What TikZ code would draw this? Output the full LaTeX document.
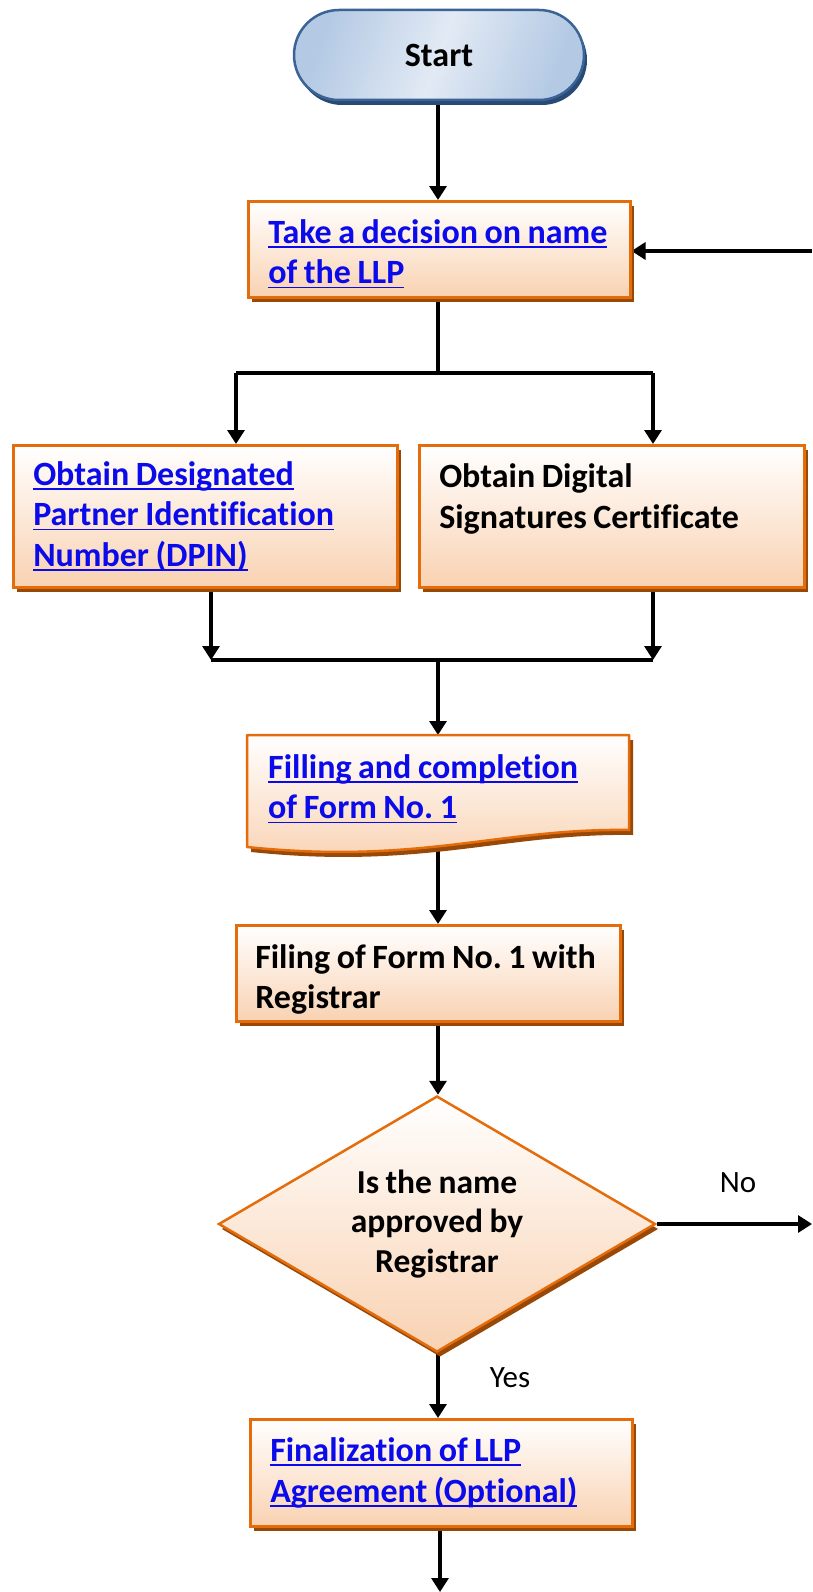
\documentclass[tikz,border=0pt]{standalone}
\usepackage{fontspec}
\setmainfont{Carlito}[Ligatures={NoCommon}, WordSpace=0.85]
\usetikzlibrary{arrows.meta,shapes.geometric,shadows,calc,backgrounds}
\definecolor{boxborder}{HTML}{E46C0A}
\definecolor{boxbottom}{HTML}{F9D2B2}
\definecolor{boxshadow}{HTML}{984807}
\definecolor{startborder}{HTML}{3B6396}
\definecolor{startlight}{HTML}{E2EAF4}
\definecolor{startdark}{HTML}{B3C9E4}
\definecolor{startshadow}{HTML}{284A75}
\definecolor{linkblue}{HTML}{0A0AEB}
\newcommand\lnk[1]{\leavevmode\setbox0\hbox{#1}\rlap{\rule[-4.5pt]{\wd0}{1.6pt}}\box0}
\newcommand\lift[1]{\rule{0pt}{#1}}
\protected\def\natspace{\spaceskip=0pt\relax\xspaceskip=0pt\relax}
\frenchspacing
\begin{document}
\begin{tikzpicture}[x=1pt,y=-1pt,
  stepbox/.style={draw=boxborder, line width=2.5pt, top color=white, bottom color=boxbottom,
    drop shadow={shadow xshift=4pt, shadow yshift=-5pt, fill=boxshadow, opacity=1},
    rectangle, inner xsep=20pt, inner ysep=0pt, align=flush left, anchor=north west,
    font=\fontsize{34}{40.5}\selectfont\bfseries},
  plainbox/.style={rectangle, inner xsep=20pt, inner ysep=0pt, align=flush left, anchor=north west,
    font=\fontsize{34}{40.5}\selectfont\bfseries},
  linktext/.style={text=linkblue},
  startbox/.style={draw=startborder, line width=2.5pt, rounded corners=45pt,
    left color=startdark, right color=startdark, middle color=startlight, shading angle=70,
    drop shadow={shadow xshift=3pt, shadow yshift=-5pt, fill=startshadow, opacity=1},
    minimum width=290pt, minimum height=90pt, font=\fontsize{34}{40}\selectfont\bfseries},
  decision/.style={diamond, draw=boxborder, line width=2.5pt, top color=white, bottom color=boxbottom,
    drop shadow={shadow xshift=3pt, shadow yshift=-5pt, fill=boxshadow, opacity=1},
    minimum width=437pt, minimum height=256pt, inner sep=0pt, aspect=1.7, align=center,
    font=\fontsize{33.5}{39.6}\selectfont\bfseries},
  lbl/.style={font=\fontsize{31}{36}\selectfont},
  conn/.style={line width=3.2pt},
  arr/.style={line width=3.2pt, -{Triangle[length=14pt,width=17pt]}}
]
\useasboundingbox (0,0) rectangle (812,1592);

% nodes
\node[startbox] (start) at (439,55) {Start};
\node[stepbox, linktext, minimum width=382pt, minimum height=96pt, text width=342pt] (b1) at (247,200)
  {\natspace\lift{33pt}\lnk{Take a decision on name}\\\lnk{of the LLP}};
\node[stepbox, linktext, minimum width=384pt, minimum height=142pt, text width=344pt] (dpin) at (12,444)
  {\natspace\lnk{Obtain Designated}\\\lnk{Partner Identification}\\\lnk{Number (DPIN)}};
\node[stepbox, minimum width=385pt, minimum height=142pt, text width=345pt] (dsc) at (418,444)
  {\natspace Obtain Digital\\Signatures Certificate\\\mbox{}};

% document shape for form
\fill[boxshadow, shift={(4,5)}] (247,735) -- (629,735) -- (629,830)
  .. controls (500,828) and (420,865) .. (247,847) -- cycle;
\path[draw=boxborder, line width=2.5pt, top color=white, bottom color=boxbottom, line join=round]
  (247,735) -- (629,735) -- (629,830)
  .. controls (500,828) and (420,865) .. (247,847) -- cycle;
\node[plainbox, linktext, minimum width=382pt, minimum height=95pt, text width=340pt, inner xsep=21pt] (form) at (247,735)
  {\natspace\lift{36pt}\lnk{Filling and completion}\\\lnk{of Form No. 1}};

\node[stepbox, minimum width=384pt, minimum height=96pt, text width=346pt, inner xsep=19pt] (filing) at (235,924)
  {\natspace\lift{36pt}\mbox{Filing of Form No. 1 with}\\Registrar};
\node[decision] (dia) at (437,1224) {Is the name\\approved by\\Registrar};
\node[stepbox, linktext, minimum width=382pt, minimum height=107pt, text width=342pt] (final) at (249,1418)
  {\natspace\lnk{Finalization of LLP}\\\lnk{Agreement (Optional)}};

\node[lbl] (no) at (738,1183) {No};
\node[lbl] (yes) at (510,1378) {Yes};

% connectors
\coordinate (fb) at (812,251);
\coordinate (split) at (438,373);
\coordinate (sL) at (236,373);
\coordinate (sR) at (653,373);
\coordinate (jL) at (211,660);
\coordinate (jR) at (653,660);
\coordinate (jM) at (438,660);
\coordinate (noend) at (812,1224);
\coordinate (bottom) at (440,1592);

\begin{pgfonlayer}{background}
\draw[arr] (start.south -| split) -- (b1.north -| split);
\draw[arr] (fb) -- (fb -| b1.east);
\draw[conn] (b1.south -| split) -- (split);
\draw[conn] (sL) -- (sR);
\draw[arr] (sL) -- (sL |- dpin.north);
\draw[arr] (sR) -- (sR |- dsc.north);
\draw[arr] (dpin.south -| jL) -- (jL);
\draw[arr] (dsc.south -| jR) -- (jR);
\draw[conn] (jL) -- (jR);
\draw[arr] (jM) -- (jM |- form.north);
\draw[arr] (form.south -| jM) -- (jM |- filing.north);
\draw[arr] (filing.south -| jM) -- (jM |- dia.north);
\draw[arr] (dia.east) -- (noend);
\draw[arr] (dia.south -| jM) -- (jM |- final.north);
\draw[arr] (final.south -| bottom) -- (bottom);
\end{pgfonlayer}
\end{tikzpicture}
\end{document}
